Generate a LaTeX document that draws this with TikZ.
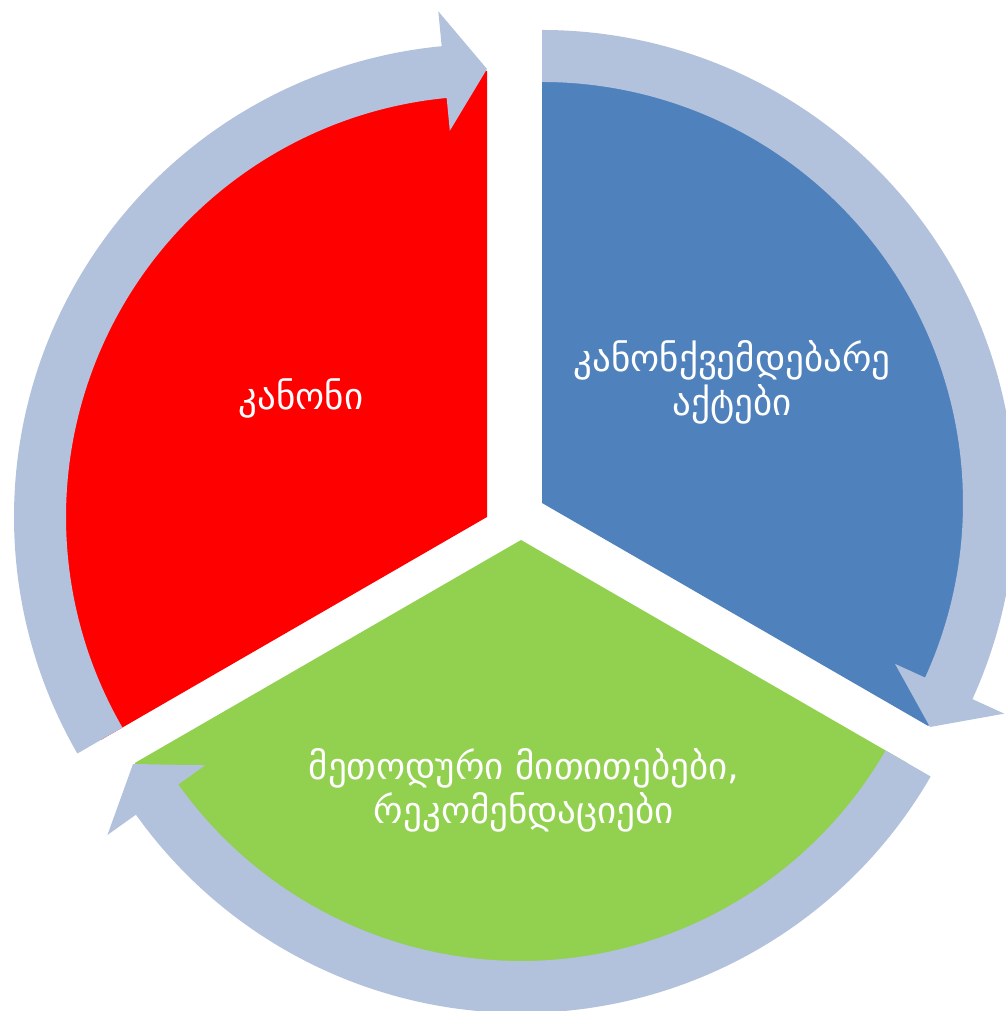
\documentclass[tikz,border=0pt]{standalone}
\usepackage{fontspec}
\setmainfont{DejaVu Sans}
\usepackage{tikz}
\definecolor{segred}{HTML}{FF0000}
\definecolor{segblue}{HTML}{4F81BD}
\definecolor{seggreen}{HTML}{92D050}
\definecolor{ringgrey}{HTML}{B2C1DC}
\tikzset{seg/.style = {fill = #1},
    ring/.style = {fill = ringgrey},
    lbl/.style = {text = white, align = center, font = \fontsize{37}{44}\selectfont}}

\begin{document}
\begin{tikzpicture}[x = 1pt, y = 1pt]
    \useasboundingbox (0, 0) rectangle (1005, 1011);
    \coordinate (cred) at (487, 494);
    \coordinate (cblue) at (542, 508);
    \coordinate (cgreen) at (521, 471);
    % pie pieces
    \foreach \c\e\col in {cred/90/segred, cblue/-30/segblue, cgreen/210/seggreen} {
        \fill [seg = \col] (\c) -- ++(\e:446) arc (\e:\e+120:446) -- cycle;
    }
    % circular arrows, drawn over the pieces
    \foreach \c\e in {cred/90, cblue/-30, cgreen/210} {
        \begin{scope}[shift = {(\c)}]
            \fill [ring] (\e+120:473) arc (\e+120:\e+5.5:473) -- (\e+5.5:508) -- (\e:448) -- (\e+5.5:388) -- (\e+5.5:421) arc (\e+5.5:\e+120:421) -- cycle;
        \end{scope}
    }
    \node [lbl, anchor = base] (kanoni) at (301, 601) {კანონი};
    \node [lbl] (aktebi) at (732, 629) {კანონქვემდებარე\\აქტები};
    \node [lbl] (metoduri) at (524, 221) {მეთოდური მითითებები,\\რეკომენდაციები};
\end{tikzpicture}
\end{document}
